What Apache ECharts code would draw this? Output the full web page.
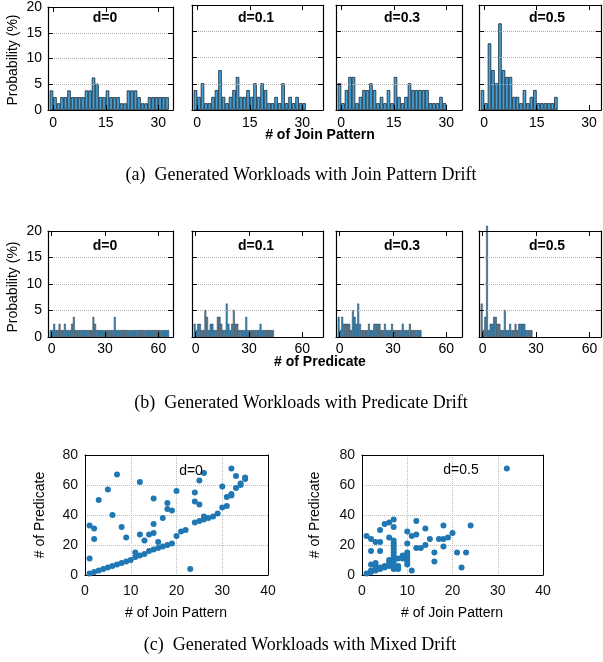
<!DOCTYPE html>
<html>
<head>
<meta charset="utf-8">
<script src="https://cdn.jsdelivr.net/npm/echarts@6/dist/echarts.min.js"></script>
<style>
html, body { margin: 0; padding: 0; background: #fff; }
#chart { width: 603px; height: 662px; }
</style>
</head>
<body>
<div id="chart"></div>
<script>
const driftLabels = ['d=0', 'd=0.1', 'd=0.3', 'd=0.5']
const joinTicks = [0, 15, 30]
const predTicks = [0, 30, 60]

// probability (%) per bin, first bin sits just left of 0
const joinD0 = [3.8, 2.5, 1.3, 2.5, 2.5, 3.8, 2.5, 2.5, 2.5, 2.5, 3.8, 3.8, 6.3, 5.1, 2.5, 2.5, 3.8, 2.5, 2.5, 2.5, 1.3, 1.3, 3.8, 3.8, 3.8, 2.5, 1.3, 1.3, 2.5, 2.5, 2.5, 2.5, 2.5, 2.5]
const joinD01 = [3.8, 2.5, 5.1, 1.3, 1.3, 2.5, 3.8, 7.6, 2.5, 1.3, 2.5, 3.8, 6.3, 2.5, 2.5, 3.8, 2.5, 5.1, 2.5, 5.1, 3.8, 1.3, 1.3, 2.5, 1.3, 5.1, 1.3, 2.5, 1.3, 2.5, 1.3, 1.3]
const joinD03 = [5.1, 1.3, 3.8, 6.3, 6.3, 1.3, 2.5, 3.8, 3.8, 5.1, 3.8, 1.3, 2.5, 1.3, 3.8, 1.3, 6.3, 2.5, 1.3, 2.5, 5.1, 3.8, 3.8, 3.8, 3.8, 3.8, 1.3, 1.3, 1.3, 2.5, 1.3]
const joinD05 = [3.8, 1.3, 12.7, 7.6, 5.1, 16.5, 7.6, 6.3, 6.3, 2.5, 2.5, 1.3, 3.8, 1.3, 2.5, 3.8, 1.3, 1.3, 1.3, 1.3, 1.3, 2.5]

const predD0 = [1.3, 1.3, 2.5, 1.3, 1.3, 2.5, 1.3, 1.3, 2.5, 1.3, 1.3, 1.3, 2.5, 3.8, 1.3, 1.3, 1.3, 1.3, 1.3, 1.3, 1.3, 1.3, 1.3, 1.3, 3.8, 2.5, 1.3, 1.3, 1.3, 1.3, 1.3, 1.3, 1.3, 1.3, 1.3, 1.3, 3.8, 1.3, 1.3, 1.3, 1.3, 1.3, 1.3, 1.3, 1.3, 1.3, 1.3, 1.3, 1.3, 1.3, 1.3, 1.3, 1.3, 1.3, 1.3, 1.3, 1.3, 1.3, 1.3, 1.3, 1.3, 1.3, 1.3, 1.3, 1.3, 1.3, 1.3]
const predD01 = [2.5, 1.3, 2.5, 2.5, 1.3, 1.3, 5.1, 3.8, 1.3, 2.5, 2.5, 1.3, 1.3, 3.8, 3.8, 2.5, 1.3, 1.3, 6.3, 2.5, 1.3, 2.5, 5.1, 2.5, 2.5, 1.3, 1.3, 1.3, 1.3, 3.8, 1.3, 1.3, 1.3, 1.3, 1.3, 1.3, 1.3, 2.5, 1.3, 1.3, 1.3, 1.3, 1.3, 1.3, 1.3]
const predD03 = [3.8, 1.3, 3.8, 2.5, 2.5, 2.5, 2.5, 1.3, 5.1, 3.8, 2.5, 6.3, 2.5, 1.3, 1.3, 1.3, 1.3, 2.5, 1.3, 1.3, 2.5, 2.5, 2.5, 2.5, 1.3, 1.3, 2.5, 1.3, 1.3, 1.3, 2.5, 1.3, 1.3, 1.3, 1.3, 1.3, 2.5, 1.3, 1.3, 1.3, 2.5, 1.3, 1.3, 1.3, 1.3, 1.3, 1.3]
const predD05 = [6.3, 1.3, 3.8, 21, 1.3, 2.5, 2.5, 3.8, 3.8, 2.5, 2.5, 1.3, 1.3, 5.1, 1.3, 1.3, 2.5, 1.3, 1.3, 2.5, 1.3, 2.5, 2.5, 2.5, 2.5, 1.3, 1.3, 1.3, 1.3]

// [# of join pattern, # of predicate]
const mixD0 = [[1, 1], [1, 11], [1, 33], [2, 2], [2, 31], [2, 24], [3, 3], [3, 50], [4, 4], [5, 5], [5, 57], [6, 6], [6, 40], [7, 7], [7, 67], [8, 8], [8, 32], [9, 9], [9, 25], [10, 10], [11, 12], [11, 15], [12, 13], [12, 62], [12, 27], [13, 14], [13, 23], [14, 16], [14, 27], [15, 17], [15, 51], [15, 34], [15, 28], [16, 18], [16, 22], [17, 19], [17, 38], [18, 20], [18, 48], [18, 44], [19, 21], [19, 43], [20, 26], [20, 56], [21, 29], [22, 30], [23, 4], [24, 35], [24, 55], [24, 49], [25, 36], [25, 63], [25, 47], [26, 37], [26, 68], [26, 39], [27, 38], [28, 39], [29, 41], [30, 45], [30, 59], [31, 46], [31, 52], [32, 53], [32, 54], [32, 71], [33, 58], [33, 66], [34, 60], [34, 61], [35, 64], [35, 65]]
const mixD05 = [[1, 1], [1, 26], [2, 2], [2, 3], [2, 7], [2, 16], [2, 24], [3, 3], [3, 4], [3, 6], [3, 8], [3, 22], [4, 4], [4, 5], [4, 16], [4, 22], [4, 30], [5, 5], [5, 6], [5, 34], [6, 6], [6, 8], [6, 10], [6, 25], [6, 35], [7, 4], [7, 5], [7, 7], [7, 9], [7, 11], [7, 13], [7, 15], [7, 17], [7, 19], [7, 21], [7, 23], [7, 32], [7, 37], [8, 4], [8, 6], [8, 11], [9, 11], [9, 12], [9, 13], [10, 7], [10, 9], [10, 11], [10, 13], [10, 15], [10, 21], [10, 29], [11, 3], [11, 26], [12, 18], [12, 27], [12, 36], [13, 18], [14, 20], [14, 31], [15, 24], [16, 9], [16, 15], [17, 24], [18, 19], [18, 24], [18, 33], [19, 25], [20, 28], [21, 15], [22, 5], [23, 15], [24, 33], [32, 71]]

const colLeft = [48, 192, 336, 479]
const colWidth = [125, 131, 126, 122]
const joinMax = [34.2, 35.9, 34.5, 33.4]
const predMax = [68.2, 71.6, 68.8, 66.5]

const font = 'Liberation Sans'
const serif = 'Liberation Serif'
let grid = [], xAxis = [], yAxis = [], series = [], graphic = []

const frameLine = { onZero: false, lineStyle: { color: '#000', width: 1.2 } }

const addHist = (col, top, height, data, min, max, ticks, barW, bw, lblMargin) => {
    const g = grid.length
    grid.push({ left: colLeft[col], top: top, width: colWidth[col], height: height })
    const tick = { inside: true, length: 5, customValues: ticks, lineStyle: { color: '#000' } }
    xAxis.push({
        type: 'value', gridIndex: g, min: min, max: max, position: 'bottom', z: 3,
        axisLine: frameLine, axisTick: tick, splitLine: { show: false },
        axisLabel: { customValues: ticks, color: '#000', fontFamily: font, fontSize: 14, margin: lblMargin }
    })
    xAxis.push({
        type: 'value', gridIndex: g, min: min, max: max, position: 'top', z: 3,
        axisLine: frameLine, axisTick: tick, splitLine: { show: false }, axisLabel: { show: false }
    })
    const ytick = { inside: true, length: 5, lineStyle: { color: '#000' } }
    yAxis.push({
        type: 'value', gridIndex: g, min: 0, max: 20, interval: 5, position: 'left', z: 3,
        axisLine: frameLine, axisTick: ytick,
        splitLine: { show: true, showMinLine: false, showMaxLine: false, lineStyle: { color: '#aaa', type: 'dotted', width: 1 } },
        axisLabel: { show: col === 0, color: '#000', fontFamily: font, fontSize: 14, margin: 6 }
    })
    yAxis.push({
        type: 'value', gridIndex: g, min: 0, max: 20, interval: 5, position: 'right', z: 3,
        axisLine: frameLine, axisTick: ytick, splitLine: { show: false }, axisLabel: { show: false }
    })
    series.push({
        type: 'bar', xAxisIndex: 2 * g, yAxisIndex: 2 * g, barWidth: barW, clip: false,
        itemStyle: { color: '#44a4dc', borderColor: '#15232f', borderWidth: bw },
        data: data.map((v, i) => [i - 0.5, v])
    })
}

const addScatter = (left, width, data) => {
    const g = grid.length
    grid.push({ left: left, top: 455, width: width, height: 120 })
    const dotted = { show: true, showMinLine: false, showMaxLine: false, lineStyle: { color: '#bbb', type: 'dotted', width: 1 } }
    const line = { onZero: false, lineStyle: { color: '#000', width: 1 } }
    xAxis.push({
        type: 'value', gridIndex: g, min: 0, max: 40, interval: 10, position: 'bottom',
        axisLine: line, axisTick: { show: false }, splitLine: dotted,
        axisLabel: { color: '#111', fontFamily: font, fontSize: 14, margin: 9 }
    })
    xAxis.push({
        type: 'value', gridIndex: g, min: 0, max: 40, interval: 10, position: 'top',
        axisLine: line, axisTick: { show: false }, splitLine: { show: false }, axisLabel: { show: false }
    })
    yAxis.push({
        type: 'value', gridIndex: g, min: 0, max: 80, interval: 20, position: 'left',
        axisLine: line, axisTick: { show: false }, splitLine: dotted,
        axisLabel: { color: '#111', fontFamily: font, fontSize: 14, margin: 7 }
    })
    yAxis.push({
        type: 'value', gridIndex: g, min: 0, max: 80, interval: 20, position: 'right',
        axisLine: line, axisTick: { show: false }, splitLine: { show: false }, axisLabel: { show: false }
    })
    series.push({
        type: 'scatter', xAxisIndex: 2 * g, yAxisIndex: 2 * g, symbolSize: 6,
        itemStyle: { color: '#1f77b4', opacity: 1 }, data: data
    })
}

const joinRows = [joinD0, joinD01, joinD03, joinD05]
const predRows = [predD0, predD01, predD03, predD05]
for (let c = 0; c < 4; c++) {
    addHist(c, 5, 105, joinRows[c], -1.5, joinMax[c], joinTicks, 3.5, 0.8, 6)
    addHist(c, 231, 106, predRows[c], -2, predMax[c], predTicks, 1.78, 0.5, 5)
}
addScatter(85, 183, mixD0)
addScatter(362, 181, mixD05)

const text = (x, y, t, opt = {}) => {
    graphic.push({
        type: 'text', x: x, y: y, rotation: opt.rot || 0, z: 10,
        style: {
            text: t, x: 0, y: 0, align: 'center', verticalAlign: 'middle',
            fill: '#000', font: (opt.w || 'normal') + ' ' + (opt.size || 14) + 'px ' + (opt.family || font)
        }
    })
}

const titleX = [105, 256, 402, 547]
for (let c = 0; c < 4; c++) {
    text(titleX[c], 18, driftLabels[c], { w: 'bold' })
    text(titleX[c], 246, driftLabels[c], { w: 'bold' })
}
text(13, 60, 'Probability (%)', { rot: Math.PI / 2 })
text(13, 287, 'Probability (%)', { rot: Math.PI / 2 })
text(320, 135, '# of Join Pattern', { w: 'bold' })
text(320, 362, '# of Predicate', { w: 'bold' })

text(40, 515, '# of Predicate', { rot: Math.PI / 2 })
text(315, 515, '# of Predicate', { rot: Math.PI / 2 })
text(176, 613, '# of Join Pattern')
text(452, 613, '# of Join Pattern')
text(191, 471, 'd=0')
text(461, 470, 'd=0.5')

text(301, 175, '(a)  Generated Workloads with Join Pattern Drift', { size: 18, family: serif })
text(301, 403, '(b)  Generated Workloads with Predicate Drift', { size: 18, family: serif })
text(300, 645, '(c)  Generated Workloads with Mixed Drift', { size: 18, family: serif })

let myChart = echarts.init(document.getElementById('chart'), null, { renderer: 'canvas' })
myChart.setOption({
    animation: false,
    backgroundColor: '#fff',
    grid: grid,
    xAxis: xAxis,
    yAxis: yAxis,
    series: series,
    graphic: graphic
})
</script>
</body>
</html>
